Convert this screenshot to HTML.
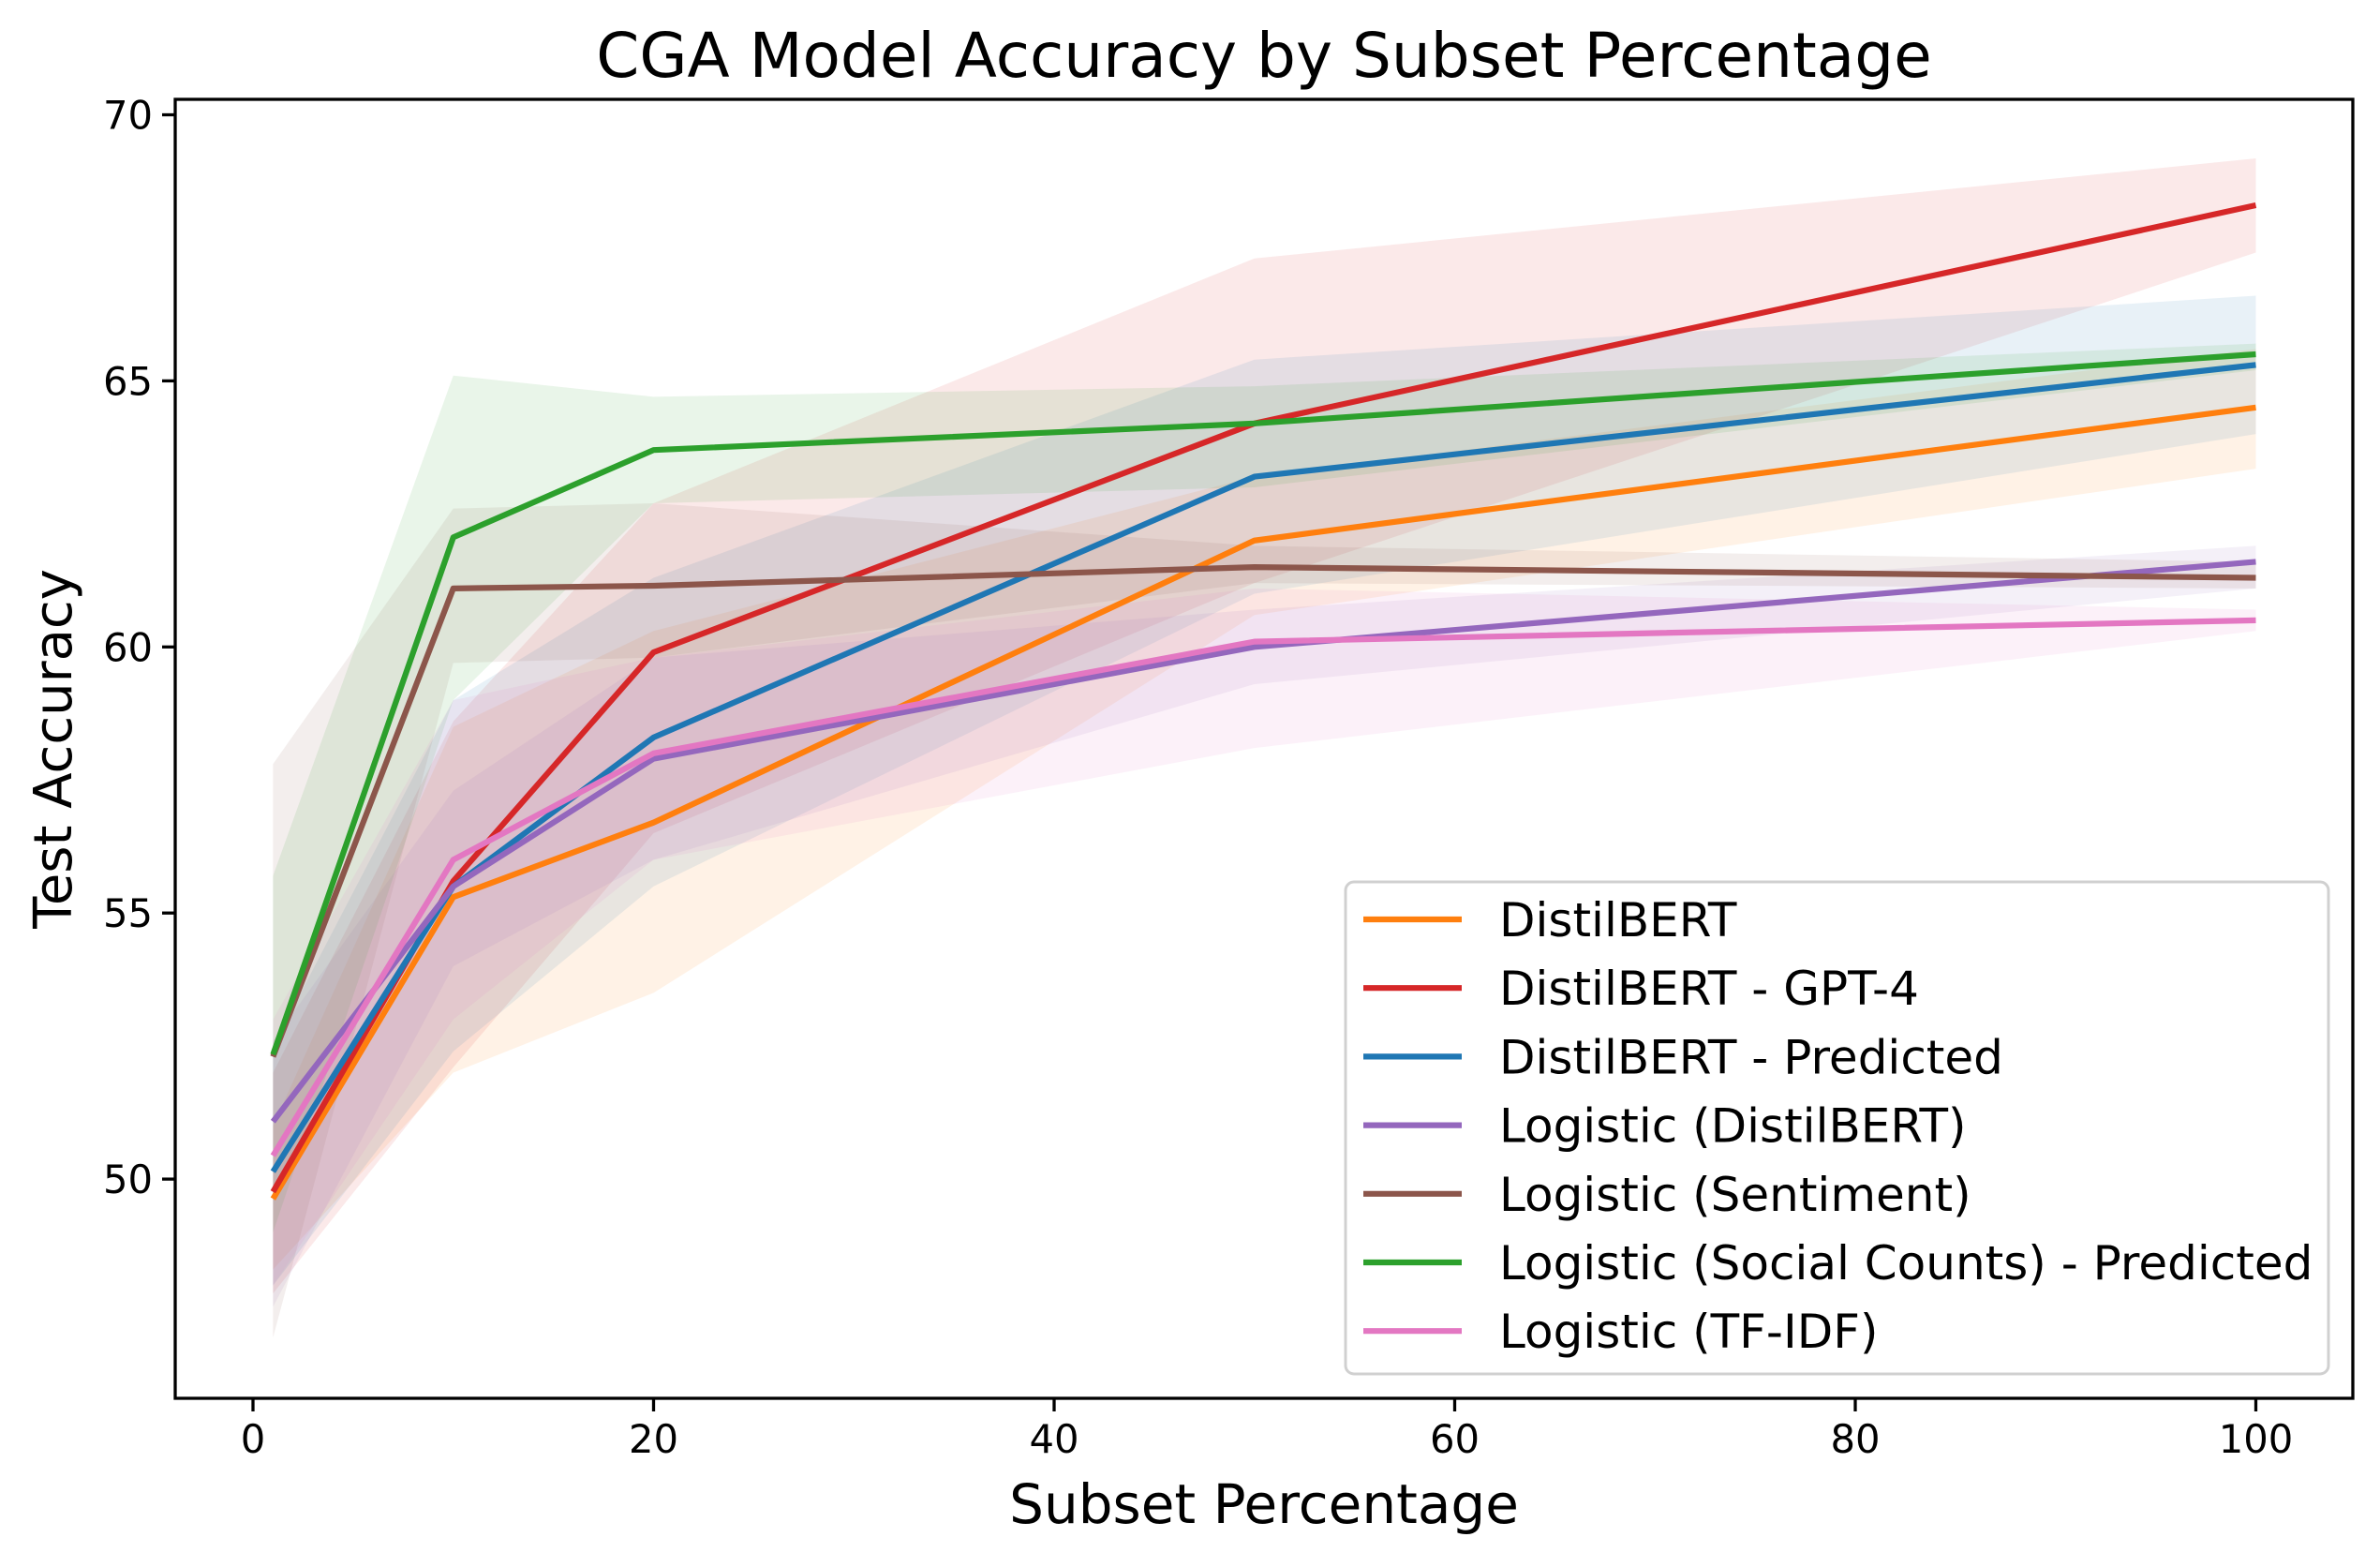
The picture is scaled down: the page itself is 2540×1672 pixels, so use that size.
<!DOCTYPE html>
<html><head><meta charset="utf-8"><style>
html,body{margin:0;padding:0;background:#fff;}
svg text{font-family:"DejaVu Sans","Liberation Sans",sans-serif;}
</style></head><body>
<svg id="chart" width="2540" height="1667" viewBox="0 0 2540 1667" xmlns="http://www.w3.org/2000/svg">
<rect width="2540" height="1667" fill="#fff"/>
<g id="bands"></g><g id="lines"></g><g id="axes"></g><g id="legend"></g>
</svg>
<script>
const xs = [1, 10, 20, 50, 100];
const names = ["DistilBERT","DistilBERT - GPT-4","DistilBERT - Predicted","Logistic (DistilBERT)","Logistic (Sentiment)","Logistic (Social Counts) - Predicted","Logistic (TF-IDF)"];
const colors = ["#ff7f0e","#d62728","#1f77b4","#9467bd","#8c564b","#2ca02c","#e377c2"];
const distilbert = [49.63, 55.3, 56.7, 62.0, 64.5];
const distilbertLo = [48.3, 52.0, 53.5, 60.6, 63.35];
const distilbertHi = [51.0, 58.5, 60.3, 63.2, 65.6];
const gpt4 = [49.76, 55.6, 59.9, 64.2, 68.3];
const gpt4Lo = [47.85, 52.1, 56.5, 61.2, 67.41];
const gpt4Hi = [52.0, 58.6, 62.7, 67.3, 69.18];
const predicted = [50.14, 55.5, 58.3, 63.2, 65.3];
const predictedLo = [48.0, 52.4, 55.5, 61.0, 64.0];
const predictedHi = [52.5, 59.0, 61.3, 65.4, 66.6];
const logDistil = [51.08, 55.5, 57.9, 60.0, 61.6];
const logDistilLo = [47.6, 54.0, 56.0, 59.3, 61.1];
const logDistilHi = [52.6, 57.3, 59.8, 60.7, 61.9];
const sentiment = [52.3, 61.1, 61.15, 61.5, 61.3];
const sentimentLo = [47.02, 59.7, 59.8, 61.2, 61.1];
const sentimentHi = [57.8, 62.6, 62.7, 61.9, 61.6];
const social = [52.34, 62.06, 63.7, 64.2, 65.5];
const socialLo = [49.0, 59.0, 62.7, 63.0, 65.2];
const socialHi = [55.7, 65.1, 64.7, 64.9, 65.7];
const tfidf = [50.44, 56.0, 58.0, 60.1, 60.5];
const tfidfLo = [48.0, 53.0, 56.0, 58.1, 60.3];
const tfidfHi = [53.0, 59.0, 59.8, 61.1, 60.7];
const xTicks = [0, 20, 40, 60, 80, 100];
const yTicks = [50, 55, 60, 65, 70];

const means=[distilbert,gpt4,predicted,logDistil,sentiment,social,tfidf];
const los=[distilbertLo,gpt4Lo,predictedLo,logDistilLo,sentimentLo,socialLo,tfidfLo];
const his=[distilbertHi,gpt4Hi,predictedHi,logDistilHi,sentimentHi,socialHi,tfidfHi];
const L=187,R=2511,T=106,B=1492;
const X=v=>270+(v-0)*21.375;
const Y=v=>122.5+(70-v)*56.78;
const NS="http://www.w3.org/2000/svg";
function mk(tag,attrs,parent){const e=document.createElementNS(NS,tag);for(const k in attrs)e.setAttribute(k,attrs[k]);parent.appendChild(e);return e;}
const gb=document.getElementById('bands'),gl=document.getElementById('lines'),ga=document.getElementById('axes'),gg=document.getElementById('legend');
means.forEach((m,i)=>{
  const top=xs.map((x,j)=>X(x)+','+Y(his[i][j]));
  const bot=xs.map((x,j)=>X(x)+','+Y(los[i][j])).reverse();
  const p=mk('polygon',{points:top.concat(bot).join(' '),fill:colors[i],'fill-opacity':0.1},gb);
  
  
});
means.forEach((m,i)=>{
  const l=mk('polyline',{points:xs.map((x,j)=>X(x)+','+Y(m[j])).join(' '),fill:'none',stroke:colors[i],'stroke-width':6.2,'stroke-linejoin':'round'},gl);
  
  
});
const fr=mk('rect',{x:L,y:T,width:R-L,height:B-T,fill:'none',stroke:'#000','stroke-width':3.3},ga);


xTicks.forEach(t=>{
  mk('line',{x1:X(t),x2:X(t),y1:B,y2:B+14,stroke:'#000','stroke-width':3.3},ga);
  const tx=mk('text',{x:X(t),y:B+58,'font-size':41.7,'text-anchor':'middle'},ga);tx.textContent=t;
  
  
});
yTicks.forEach(t=>{
  mk('line',{x1:L-14,x2:L,y1:Y(t),y2:Y(t),stroke:'#000','stroke-width':3.3},ga);
  const tx=mk('text',{x:L-24,y:Y(t)+15,'font-size':41.7,'text-anchor':'end'},ga);tx.textContent=t;
  
  
});
const title=mk('text',{x:(L+R)/2,y:82,'font-size':66,'text-anchor':'middle'},ga);title.textContent='CGA Model Accuracy by Subset Percentage';


const xl=mk('text',{x:(L+R)/2,y:1625,'font-size':58,'text-anchor':'middle'},ga);xl.textContent='Subset Percentage';


const yl=mk('text',{x:0,y:0,'font-size':56,'text-anchor':'middle',transform:'translate(76,'+((T+B)/2)+') rotate(-90)'},ga);yl.textContent='Test Accuracy';


const lb=mk('rect',{x:1436,y:941,width:1049,height:525,rx:9,fill:'#fff','fill-opacity':0.8,stroke:'#d0d0d0','stroke-width':3},gg);


names.forEach((n,i)=>{
  const y=981+i*73.2;
  mk('line',{x1:1455,x2:1560,y1:y,y2:y,stroke:colors[i],'stroke-width':6.2},gg);
  const t=mk('text',{x:1600,y:y+18,'font-size':50},gg);t.textContent=n;
  
  
});
</script>
</body></html>
